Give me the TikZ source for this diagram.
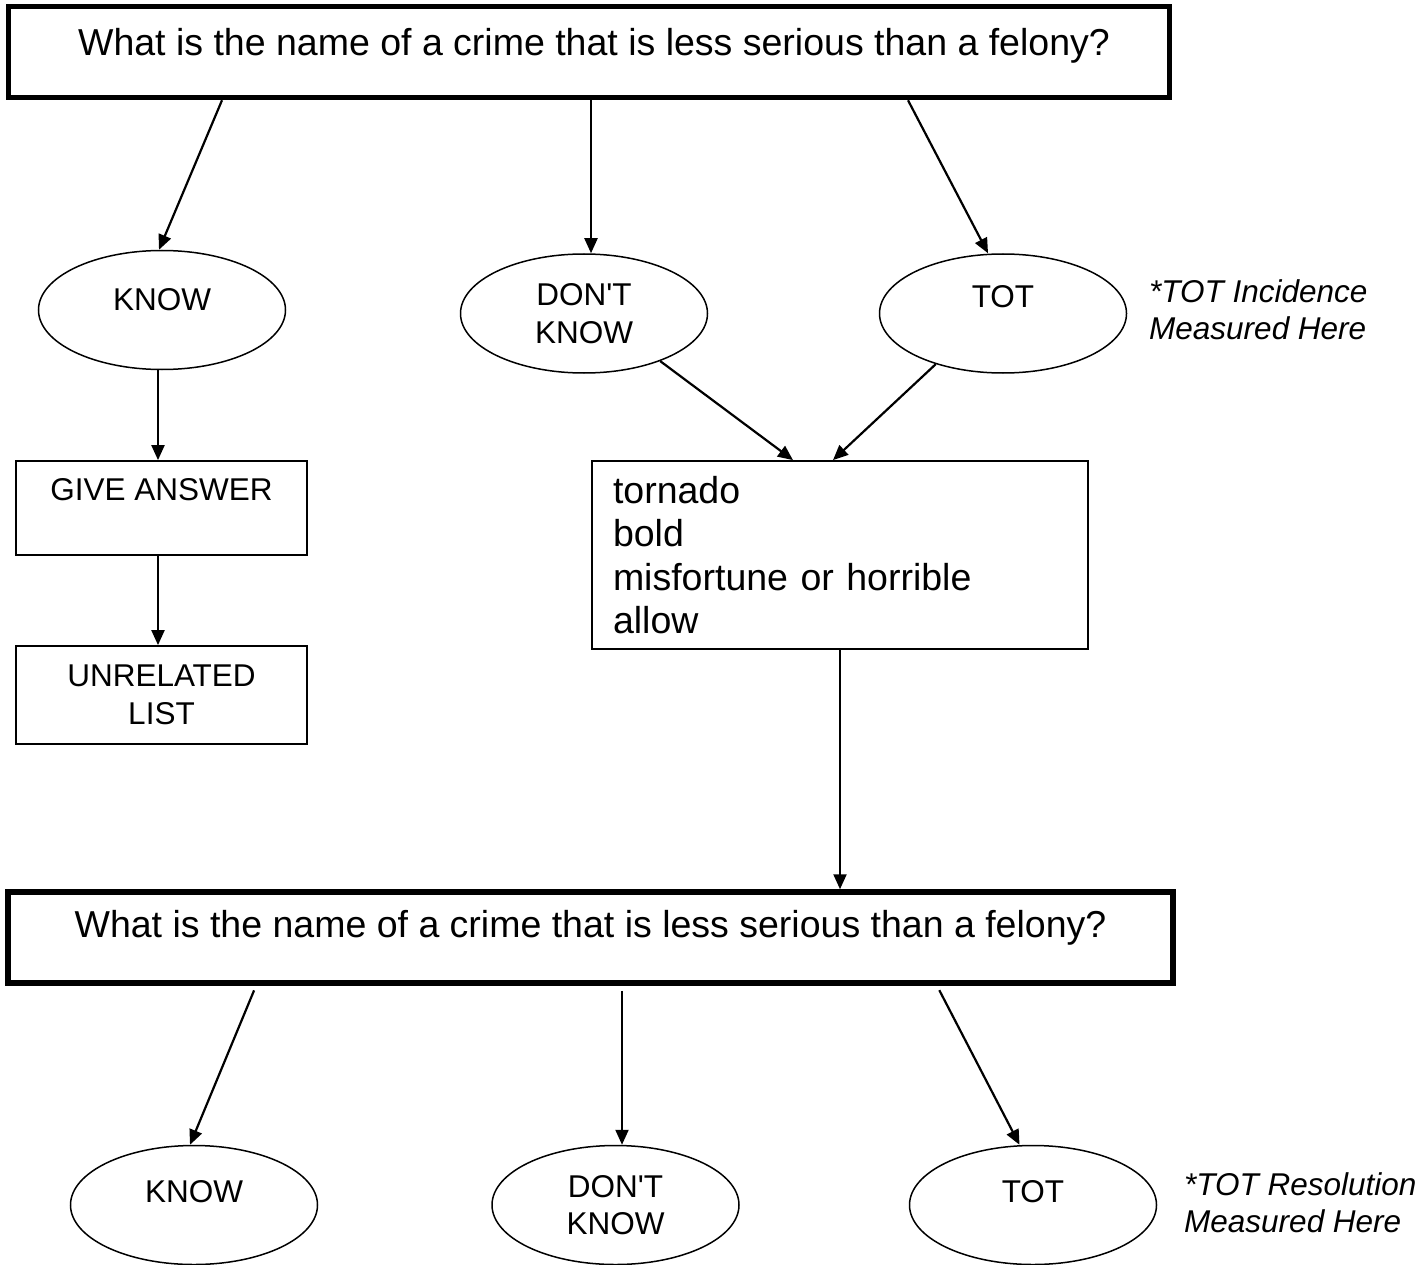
\documentclass[tikz,border=0pt]{standalone}
\usepackage{fontspec}
\setmainfont{Liberation Sans}
\usetikzlibrary{arrows.meta,shapes.geometric}
\newcommand{\bigtxt}{\fontsize{37.5}{43.3}\selectfont}
\newcommand{\smalltxt}{\fontsize{31.5}{37.5}\selectfont}
\begin{document}
\begin{tikzpicture}[x=1pt,y=-1pt,
  qbox/.style={draw, rectangle, line width=5.5pt, minimum width=1161pt, minimum height=91pt, inner sep=0pt, font=\bigtxt, text height=10pt, text depth=10pt},
  oval/.style={draw, ellipse, line width=1.5pt, minimum width=247pt, minimum height=119pt, inner sep=0pt, font=\smalltxt, align=center},
  sbox/.style={draw, rectangle, line width=1.8pt, minimum width=291pt, inner sep=0pt, font=\smalltxt, align=center},
  listbox/.style={draw, rectangle, line width=1.8pt, minimum height=188pt, text width=454pt, inner xsep=21pt, inner ysep=0pt, align=left, font=\bigtxt},
  arr/.style={line width=2.2pt, -{Triangle[length=15pt,width=13pt]}},
  note/.style={font=\smalltxt\itshape, align=left, inner sep=0pt, anchor=north west}
]
\useasboundingbox (0,0) rectangle (1421,1265);
\clip (0,0) rectangle (1421,1265);

% first question
\node[qbox, text height=14pt, text depth=6pt] (q1) at (589,52) {\hspace*{10pt}What is the name of a crime that is less serious than a felony?};

% first row of answers
\node[oval, text height=10pt, text depth=10pt] (k1) at (162,310) {KNOW};
\node[oval] (d1) at (584,313.5) {DON\textquotesingle T\\KNOW};
\node[oval, text height=5pt, text depth=16pt] (t1) at (1003,313.5) {TOT};
\node[note] (n1) at (1149,279) {*TOT Incidence\\Measured Here};

% left branch
\node[sbox, minimum height=94pt, text height=2pt, text depth=18pt] (g) at (161.5,508) {GIVE ANSWER};
\node[sbox, minimum height=98pt] (u) at (161.5,695) {UNRELATED\\LIST};

% cue list
\node[listbox] (L) at (840,555) {tornado\\bold\\misfortune or horrible\\allow};

% second question
\node[qbox, minimum width=1165pt] (q2) at (590.5,937.5) {What is the name of a crime that is less serious than a felony?};

% second row of answers
\node[oval, text height=10pt, text depth=16pt] (k2) at (194,1205) {KNOW};
\node[oval] (d2) at (615.5,1205) {DON\textquotesingle T\\KNOW};
\node[oval, text height=10pt, text depth=16pt] (t2) at (1033,1205) {TOT};
\node[note] (n2) at (1184,1172) {*TOT Resolution\\Measured Here};

% connectors
\draw[arr] ([xshift=-367pt]q1.south) -- ([xshift=-3pt]k1.north);
\draw[arr] ([xshift=2pt]q1.south) -- ([xshift=2pt]q1.south |- d1.north);
\draw[arr] ([xshift=319pt]q1.south) -- ([xshift=-15pt]t1.north);
\draw[arr] ([xshift=-4pt]k1.south) -- ([xshift=-4pt]k1.south |- g.north);
\draw[arr] ([xshift=-3.5pt]g.south) -- ([xshift=-3.5pt]g.south |- u.north);
\draw[arr] (d1.-32) -- ([xshift=-47pt]L.north);
\draw[arr] (t1.217) -- ([xshift=-7pt]L.north);
\draw[arr] (L.south) -- (L.south |- q2.north);
\draw[arr, shorten <=5pt] ([xshift=-334.5pt]q2.south) -- ([xshift=-4pt]k2.north);
\draw[arr, shorten <=5pt] ([xshift=31.5pt]q2.south) -- ([xshift=31.5pt]q2.south |- d2.north);
\draw[arr, shorten <=5pt] ([xshift=346.5pt]q2.south) -- ([xshift=-13.5pt]t2.north);
\end{tikzpicture}
\end{document}
